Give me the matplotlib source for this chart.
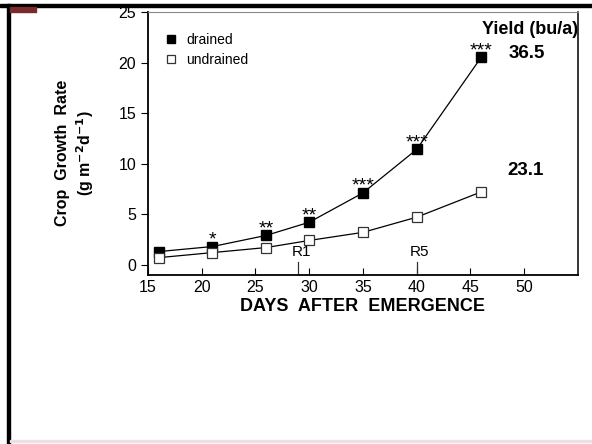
import numpy as np
import matplotlib.pyplot as plt
from matplotlib.patches import Rectangle

plt.rcParams['font.family'] = ['Liberation Sans', 'DejaVu Sans']

days = [16, 21, 26, 30, 35, 40, 46]
drained = [1.3, 1.8, 2.9, 4.2, 7.1, 11.4, 20.5]
undrained = [0.7, 1.2, 1.7, 2.4, 3.2, 4.7, 7.2]
signif = ['', '*', '**', '**', '***', '***', '***']
stages = {'R1': 29, 'R5': 40}
yield_drained = '36.5'
yield_undrained = '23.1'

fig = plt.figure(figsize=(5.92, 4.44), dpi=100)

# slide border
fig.patches.append(Rectangle((0.012, -0.01), 0.005, 1.0, transform=fig.transFigure,
                             color='black', zorder=0))
fig.patches.append(Rectangle((0, 0.985), 1.0, 0.006, transform=fig.transFigure,
                             color='black', zorder=0))
fig.patches.append(Rectangle((0.017, 0.973), 0.043, 0.012, transform=fig.transFigure,
                             color='#7a2a2a', zorder=0))
fig.patches.append(Rectangle((0.017, 0.005), 0.983, 0.004, transform=fig.transFigure,
                             color='#eedfe2', zorder=0))

ax = fig.add_axes([0.25, 0.381, 0.726, 0.592])

ax.plot(days, drained, '-', color='black', lw=0.9, marker='s', ms=6.5,
        mfc='black', mec='black', label='drained')
ax.plot(days, undrained, '-', color='black', lw=0.9, marker='s', ms=7,
        mfc='white', mec='#333333', mew=0.9, label='undrained')

for d, v, s in zip(days, drained, signif):
    if s:
        ax.text(d, v + 0.2, s, ha='center', va='baseline', fontsize=14)

for name, d in stages.items():
    ax.plot([d, d], [-1, 0.3], color='#333333', lw=0.9)
    ax.text(d + 0.25, 0.55, name, ha='center', va='bottom', fontsize=11)

ax.set_xlim(15, 55)
ax.set_ylim(-1, 25)
ax.set_xticks(np.arange(15, 51, 5))
ax.set_yticks(np.arange(0, 26, 5))
ax.tick_params(axis='x', direction='in', length=5, labelsize=11.5, pad=4)
ax.tick_params(axis='y', direction='out', length=5, labelsize=11.5)
ax.spines['left'].set_linewidth(1.3)
ax.spines['bottom'].set_linewidth(1.3)
ax.spines['top'].set_color('#888888')
ax.spines['right'].set_linewidth(1.1)

ax.set_xlabel('DAYS  AFTER  EMERGENCE', fontsize=13, fontweight='bold', labelpad=2)
fig.text(0.105, 0.655, 'Crop  Growth  Rate', rotation=90, ha='center', va='center',
         fontsize=11.5, fontweight='bold')
fig.text(0.143, 0.655, r'(g m$^{\mathbf{-2}}$d$^{\mathbf{-1}}$)', rotation=90, ha='center',
         va='center', fontsize=11.5, fontweight='bold')

ax.legend(loc='upper left', bbox_to_anchor=(0.012, 0.968), frameon=False, fontsize=10,
          handlelength=0.7, handletextpad=0.8, labelspacing=0.45, markerscale=0.85)
for h in ax.get_legend().legend_handles:
    h.set_linestyle('')

ax.text(1.0, 0.9, 'Yield (bu/a)', transform=ax.transAxes, ha='right', va='bottom',
        fontsize=13, fontweight='bold')
ax.text(50.3, 20.9, yield_drained, ha='center', va='center', fontsize=13.5, fontweight='bold')
ax.text(50.1, 9.3, yield_undrained, ha='center', va='center', fontsize=13.5, fontweight='bold')

fig.savefig('out.png', dpi=100)
